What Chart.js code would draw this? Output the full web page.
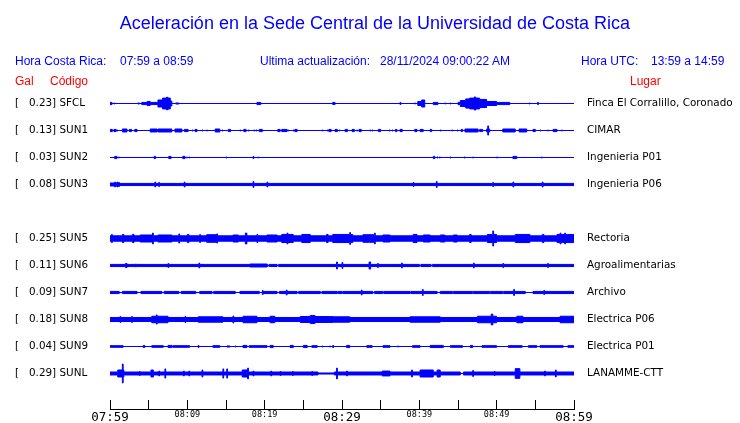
<!DOCTYPE html>
<html>
<head>
<meta charset="utf-8">
<script src="https://cdn.jsdelivr.net/npm/chart.js@4.4.0/dist/chart.umd.min.js"></script>
<style>
  body { margin: 0; background: #fff; }
  #wrap { position: relative; width: 740px; height: 423px; overflow: hidden; }
  #box { position: absolute; left: 0; top: 0; width: 740px; height: 423px; }
  .txt { position: absolute; white-space: pre; font-family: 'Liberation Sans', Arial, sans-serif;
         font-size: 12px; line-height: 12px; color: #0000ff; }
  .red { color: #ff0000; }
  #title { left: 5px; width: 740px; text-align: center; top: 14px; font-size: 18px; line-height: 18px; }
</style>
</head>
<body>
<div id="wrap">
  <div id="box"><canvas id="sismo"></canvas></div>
  <div class="txt" id="title">Aceleración en la Sede Central de la Universidad de Costa Rica</div>
  <div class="txt" style="left:15px;top:55px">Hora Costa Rica:</div>
  <div class="txt" style="left:120px;top:55px">07:59 a 08:59</div>
  <div class="txt" style="left:260px;top:55px">Ultima actualización:</div>
  <div class="txt" style="left:380px;top:55px">28/11/2024 09:00:22 AM</div>
  <div class="txt" style="left:581px;top:55px">Hora UTC:</div>
  <div class="txt" style="left:651px;top:55px">13:59 a 14:59</div>
  <div class="txt red" style="left:15px;top:75px">Gal</div>
  <div class="txt red" style="left:50px;top:75px">Código</div>
  <div class="txt red" style="left:630px;top:75px">Lugar</div>
</div>
<script>
// estaciones, en el orden de la pantalla (la ranura 4 va vacia)
const codes = ['SFCL', 'SUN1', 'SUN2', 'SUN3', 'SUN5', 'SUN6', 'SUN7', 'SUN8', 'SUN9', 'SUNL'];
const peakGal = [0.23, 0.13, 0.03, 0.08, 0.25, 0.11, 0.09, 0.18, 0.04, 0.29];
const places = ['Finca El Corralillo, Coronado', 'CIMAR', 'Ingenieria P01', 'Ingenieria P06', 'Rectoria',
  'Agroalimentarias', 'Archivo', 'Electrica P06', 'Electrica P01', 'LANAMME-CTT'];
const slots = [0, 1, 2, 3, 5, 6, 7, 8, 9, 10];
const timeLabels = ['07:59', '08:09', '08:19', '08:29', '08:39', '08:49', '08:59'];

// amplitud de fondo de cada traza (% de la separacion entre trazas)
const baseAmp = [0, 0, 0, 4, 10, 4, 4, 7.5, 0, 5.5];

// rafagas: [minuto inicio, minuto fin, amplitud %]
const sfclBursts = [[0,0.26,4],[0.5,0.6,2],[3.6,3.8,2],[4.1,4.8,4],[4.8,5.2,7.5],[5.2,6.2,4],[6.2,6.8,13],
  [6.8,7.8,20],[7.3,7.5,23],[7.8,8.0,9],[8.5,8.9,2],[19.0,19.5,4],[28.8,29.1,4],[37.5,37.6,4],[39.4,39.5,2],
  [39.8,40.3,7.5],[40.3,40.7,13],[41.8,42.4,4],[43.3,43.4,2],[44.0,44.1,2],[45.0,45.3,4],[45.3,46.0,11],
  [46.0,46.5,17],[46.5,47.8,20],[47.1,47.3,24],[47.8,48.7,15],[48.7,50.0,7.5],[50.0,51.7,4],[54.2,54.3,2],[55.3,55.4,4]];
const sun1Bursts = [[0,0.3,4],[0.5,0.8,4],[0.9,1.0,2],[1.6,2.2,5.5],[2.5,2.8,4],[3.2,3.5,4],[5.2,6.1,5.5],[6.2,8.0,5.5],
  [8.4,9.3,5.5],[9.6,10.1,4],[10.6,10.7,2],[11.0,11.25,4],[11.9,12.0,2],[12.5,12.6,2],[13.6,14.2,5.5],[14.5,14.6,2],
  [15.3,15.6,4],[16.8,16.9,2],[17.3,17.6,4],[17.9,18.0,2],[18.6,18.7,2],[18.9,19.0,2],[19.3,19.7,4],[21.7,22.0,4],
  [22.2,22.9,4],[23.0,23.1,2],[23.7,23.8,2],[23.9,24.2,4],[27.4,27.5,2],[28.1,28.2,2],[28.3,28.6,4],[29.1,29.4,4],
  [29.6,29.7,2],[30.4,30.7,4],[31.3,31.6,4],[31.9,32.0,2],[32.2,32.5,4],[33.6,33.7,2],[33.9,34.0,2],[34.7,35.0,4],
  [36.1,36.2,2],[36.5,36.6,2],[36.9,37.1,4],[37.5,37.8,4],[39.4,39.7,4],[40.1,40.5,4],[41.4,41.6,4],[42.7,42.8,2],
  [44.2,44.3,2],[44.9,45.0,2],[45.4,45.6,4],[45.9,47.6,5.5],[47.8,48.2,4],[48.7,49.1,5.5],[48.85,48.95,17],
  [50.7,50.8,2],[50.8,52.4,5.5],[52.9,53.9,5.5],[54.7,55.0,4],[55.6,55.7,2],[56.6,56.7,2],[57.3,57.8,4],[58.4,58.5,2]];
const sun2Bursts = [[0.6,0.9,4],[1.1,1.2,2],[5.7,5.9,4],[7.6,7.9,4],[9.4,9.7,4],[9.9,10.0,2],[10.2,10.3,2],
  [15.0,15.1,2],[18.5,18.6,4],[19.1,19.2,2],[41.8,42.0,4],[42.3,42.4,2],[42.6,42.7,2],[44.0,44.1,2],[45.8,45.9,2],
  [46.9,47.0,2],[50.0,50.1,2],[52.1,52.6,4],[55.8,55.9,2]];
const sun3Bursts = [[0,1.3,5.5],[0.6,0.7,9],[0.9,1.0,9],[1.1,1.2,7.5],[5.8,5.9,9],[6.3,6.4,7.5],[9.6,9.7,9],
  [18.5,18.6,11],[20.3,20.4,9],[39.2,39.3,7.5],[42.2,42.3,11],[49.5,49.6,7.5],[52.1,52.2,9],[55.9,56.0,9]];
const sun5Bursts = [[0.2,0.3,15],[1.6,1.8,15],[2.9,3.1,15],[3.9,5.6,13],[5.5,5.6,20],[6.2,8.0,13],[8.9,9.0,17],
  [10.0,10.2,15],[11.6,11.7,15],[12.5,13.8,14],[13.8,13.9,17],[15.9,16.6,13],[17.5,17.7,20],[19.0,19.1,15],
  [20.3,21.6,13],[22.2,23.7,15],[22.9,23.0,20],[24.8,25.9,15],[28.0,28.2,15],[28.8,31.4,15],[31.0,31.1,22],
  [32.7,34.3,14],[34.2,34.3,20],[35.3,36.2,13],[39.2,39.7,15],[40.5,41.4,13],[42.7,43.3,13],[44.4,44.9,13],
  [46.5,46.7,15],[48.8,50.0,15],[49.5,49.6,28],[52.4,54.3,15],[55.9,56.1,15],[57.8,60,15],[58.2,58.3,20],[58.8,58.9,20]];
const sun6Bursts = [[2.0,2.2,7.5],[3.3,3.4,5.5],[7.5,7.6,7.5],[11.5,11.6,9],[18.1,20.3,5.5],[29.3,29.4,13],
  [30.0,30.1,11],[33.5,33.7,13],[34.6,34.7,7.5],[37.7,37.8,9],[47.0,47.1,9],[50.8,50.9,7.5],[56.6,56.7,7.5]];
const sun7Bursts = [[19.7,19.8,7.5],[22.8,22.9,9],[32.5,32.6,9],[40.4,40.5,11],[52.2,52.3,11],[56.1,56.2,7.5]];
const sun8Bursts = [[1.3,1.4,11],[2.8,2.9,11],[5.4,7.5,12],[6.0,6.1,17],[9.7,9.8,11],[11.4,14.6,10],[15.9,16.0,13],
  [17.2,19.0,12],[20.7,21.3,12],[24.6,28.8,11],[25.9,26.5,15],[28.4,31.0,10],[38.8,42.7,10],[47.5,50.0,12],
  [49.3,49.5,20],[52.6,53.4,12],[58.2,60,12]];
const sun9Bursts = [[0,1.7,3],[4.3,4.5,4],[5.4,6.9,3],[7.5,8.0,4],[8.1,10.3,3],[11.4,11.5,4],[13.3,14.2,3],
  [15.1,15.5,2],[16.2,16.3,2],[17.2,17.7,4],[18.0,20.3,3],[20.7,21.1,4],[23.3,23.7,4],[25.0,25.5,4],[26.1,26.8,3],
  [27.4,27.5,2],[28.4,28.5,2],[28.8,28.9,4],[30.6,31.0,4],[33.2,33.9,3],[35.3,36.2,3],[37.2,37.3,2],[39.1,40.1,3],
  [41.4,43.1,4],[44.0,45.6,3],[46.6,46.9,4],[48.1,50.0,3],[51.5,53.3,3],[54.1,55.2,3],[55.6,58.6,3],[59.2,60,3]];
const sunlBursts = [[1.0,1.8,13],[1.6,1.7,35],[3.8,3.9,7.5],[5.3,5.6,13],[6.3,6.4,9],[7.1,7.2,17],[9.5,9.6,9],
  [10.2,10.3,9],[11.9,12.0,13],[14.6,14.7,17],[15.1,15.2,17],[17.1,17.8,13],[17.8,17.9,20],[18.5,18.6,9],
  [20.8,20.9,9],[22.0,22.1,7.5],[23.6,23.7,7.5],[26.1,26.2,7.5],[29.3,29.4,20],[30.6,30.7,9],[35.2,36.2,9],
  [39.0,39.1,13],[40.1,41.8,13],[42.3,42.7,13],[46.9,47.0,11],[49.7,49.8,7.5],[52.4,53.0,18],[56.2,56.3,9],[57.6,57.7,13]];

// tramos mas tranquilos: [minuto inicio, minuto fin, amplitud %]
const sun6Gaps = [[20.4,20.6,1],[21.6,21.8,1],[40.0,40.2,1],[41.5,41.7,1]];
const sun7Gaps = [[1.2,1.6,0],[3.5,4.0,0],[6.7,7.0,0],[8.9,9.2,0],[11.1,11.6,0],[13.2,13.4,0],[16.2,16.8,0],
  [19.3,19.7,0],[21.6,21.9,0],[24.2,24.4,0],[27.2,27.4,0],[29.4,29.5,0],[30.0,30.1,0],[34.0,34.2,0],[35.3,35.4,0],
  [38.8,38.9,0],[42.3,42.7,0],[44.3,44.4,0],[46.9,47.0,0],[49.1,49.2,0],[50.8,50.9,0],[53.7,54.7,0]];
const sunlGaps = [[26.9,29.0,2],[45.3,45.7,0]];

const allBursts = [sfclBursts, sun1Bursts, sun2Bursts, sun3Bursts, sun5Bursts, sun6Bursts, sun7Bursts, sun8Bursts, sun9Bursts, sunlBursts];
const allGaps = [[], [], [], [], [], sun6Gaps, sun7Gaps, [], [], sunlGaps];

// envolvente escalonada de una traza
function envelope(base, bursts, gaps) {
  const cuts = new Set([0, 60]);
  bursts.concat(gaps).forEach(b => { cuts.add(b[0]); cuts.add(b[1]); });
  const xs = [...cuts].sort((a, b) => a - b);
  const out = [];
  for (let i = 0; i < xs.length - 1; i++) {
    const mid = (xs[i] + xs[i + 1]) / 2;
    let a = base;
    gaps.forEach(g => { if (mid > g[0] && mid < g[1]) a = g[2]; });
    bursts.forEach(b => { if (mid > b[0] && mid < b[1]) a = Math.max(a, b[2]); });
    out.push([xs[i], a]);
  }
  out.push([60, out[out.length - 1][1]]);
  return out;
}

const datasets = [];
codes.forEach((code, i) => {
  const env = envelope(baseAmp[i], allBursts[i], allGaps[i]);
  const common = { borderColor: '#0000ff', backgroundColor: '#0000ff', borderWidth: 1, pointRadius: 0, stepped: true };
  datasets.push({ ...common, label: code, data: env.map(p => ({ x: p[0], y: slots[i] - p[1] / 100 })), fill: false });
  datasets.push({ ...common, label: code, data: env.map(p => ({ x: p[0], y: slots[i] + p[1] / 100 })), fill: '-1' });
});

const yMin = -1.0185, yMax = 11.315;
const setRows = s => { s.ticks = slots.map(v => ({ value: v })); };
const labelFont = { family: 'DejaVu Sans', size: 10.4 };

new Chart(document.getElementById('sismo'), {
  type: 'line',
  data: { datasets },
  options: {
    responsive: true,
    maintainAspectRatio: false,
    animation: false,
    layout: { padding: { left: 15, right: 0, top: 76, bottom: 0 } },
    plugins: { legend: { display: false }, tooltip: { enabled: false } },
    scales: {
      x: {
        type: 'linear', min: 0, max: 60,
        grid: { drawOnChartArea: false, tickLength: -9, color: '#000' },
        border: { color: '#000' },
        ticks: {
          stepSize: 5, autoSkip: false, maxRotation: 0, padding: 10, color: '#000',
          callback: v => (v % 10 === 0 ? timeLabels[v / 10] : ''),
          font: c => (c.tick && c.tick.value % 30 === 0
            ? { family: 'DejaVu Sans Mono', size: 12.5 }
            : { family: 'DejaVu Sans Mono', size: 8.5 })
        },
        afterFit: s => { s.height = 14; }
      },
      y: {
        min: yMin, max: yMax, reverse: true,
        grid: { display: false, drawTicks: false }, border: { display: false },
        afterBuildTicks: setRows,
        afterFit: s => { s.width = 95; },
        ticks: {
          crossAlign: 'far', padding: 2, color: '#000', font: labelFont,
          callback: v => { const i = slots.indexOf(v); return '[' + peakGal[i].toFixed(2).padStart(7) + '] ' + codes[i]; }
        }
      },
      y2: {
        position: 'right', min: yMin, max: yMax, reverse: true,
        grid: { display: false, drawTicks: true, tickLength: 11 }, border: { display: false },
        afterBuildTicks: setRows,
        afterFit: s => { s.width = 166; },
        ticks: {
          crossAlign: 'near', padding: 2, color: '#000', font: labelFont,
          callback: v => places[slots.indexOf(v)]
        }
      }
    }
  }
});
</script>
</body>
</html>
